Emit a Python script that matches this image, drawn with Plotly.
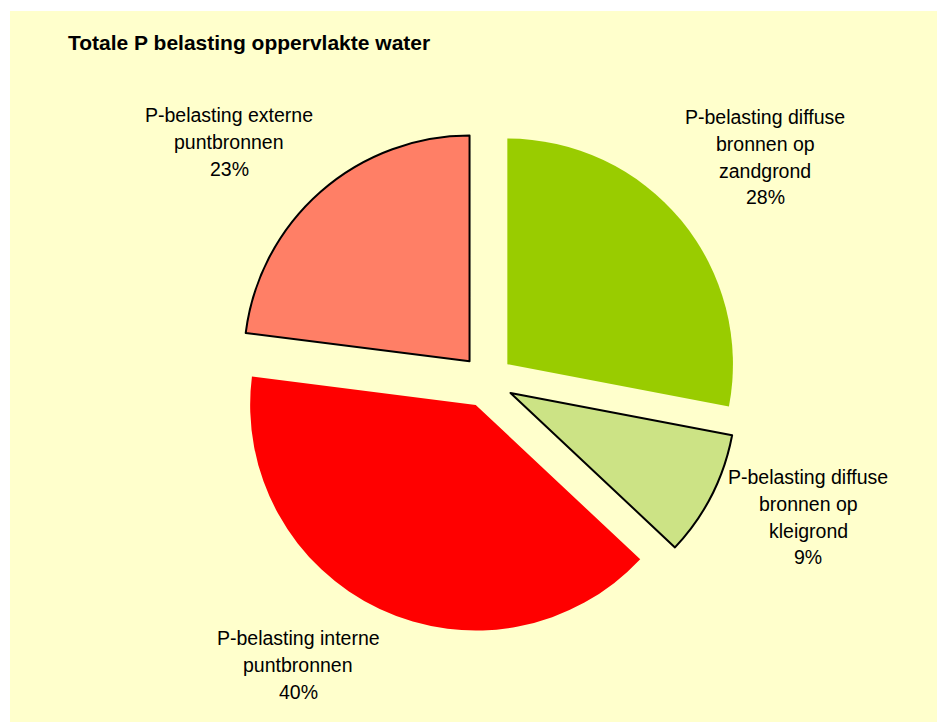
import plotly.graph_objects as go

# Sources of phosphorus load on surface water (share of total, %)
categories = [
    "P-belasting diffuse bronnen op zandgrond",
    "P-belasting diffuse bronnen op kleigrond",
    "P-belasting interne puntbronnen",
    "P-belasting externe puntbronnen",
]
values = [28, 9, 40, 23]
colors = ["#99CC00", "#CCE385", "#FF0000", "#FF7F66"]
outline_widths = [0, 2, 0, 2]

# Label lines for each slice (last line is the percentage)
label_lines = [
    ["P-belasting diffuse", "bronnen op", "zandgrond"],
    ["P-belasting diffuse", "bronnen op", "kleigrond"],
    ["P-belasting interne", "puntbronnen"],
    ["P-belasting externe", "puntbronnen"],
]
# label anchor (centre x, first-line y) in pixels
label_pos = [(765, 117), (808, 477), (298, 638), (229, 115)]

W, H = 937, 722
LINE_STEP = 26.8
FONT = "Liberation Sans, Arial, sans-serif"

# pie box: centre and half-size in pixels
PCX, PCY, HALF = 487, 381, 252

total = sum(values)

fig = go.Figure(
    go.Pie(
        labels=categories,
        values=values,
        sort=False,
        direction="clockwise",
        rotation=0,
        pull=0.117,
        marker=dict(colors=colors, line=dict(color="black", width=outline_widths)),
        textinfo="none",
        hoverinfo="skip",
        showlegend=False,
        domain=dict(
            x=[(PCX - HALF) / W, (PCX + HALF) / W],
            y=[1 - (PCY + HALF) / H, 1 - (PCY - HALF) / H],
        ),
    )
)

annotations = [
    dict(
        text="<b>Totale P belasting oppervlakte water</b>",
        x=66 / W, y=1 - 42 / H, xref="paper", yref="paper",
        xanchor="left", yanchor="middle", showarrow=False,
        font=dict(family=FONT, size=21, color="black"),
    )
]
for lines, v, (cx, cy) in zip(label_lines, values, label_pos):
    pct = f"{round(100 * v / total)}%"
    for i, line in enumerate(lines + [pct]):
        annotations.append(dict(
            text=line,
            x=cx / W, y=1 - (cy + i * LINE_STEP) / H,
            xref="paper", yref="paper",
            xanchor="center", yanchor="middle", showarrow=False,
            font=dict(family=FONT, size=19.5, color="black"),
        ))

fig.update_layout(
    width=W, height=H,
    margin=dict(l=0, r=0, t=0, b=0),
    paper_bgcolor="white",
    plot_bgcolor="white",
    shapes=[dict(
        type="rect", xref="paper", yref="paper",
        x0=10 / W, x1=1, y0=0, y1=1 - 11 / H,
        fillcolor="#FFFFCC", line=dict(width=0), layer="below",
    )],
    annotations=annotations,
)

fig.write_html("out.html")
